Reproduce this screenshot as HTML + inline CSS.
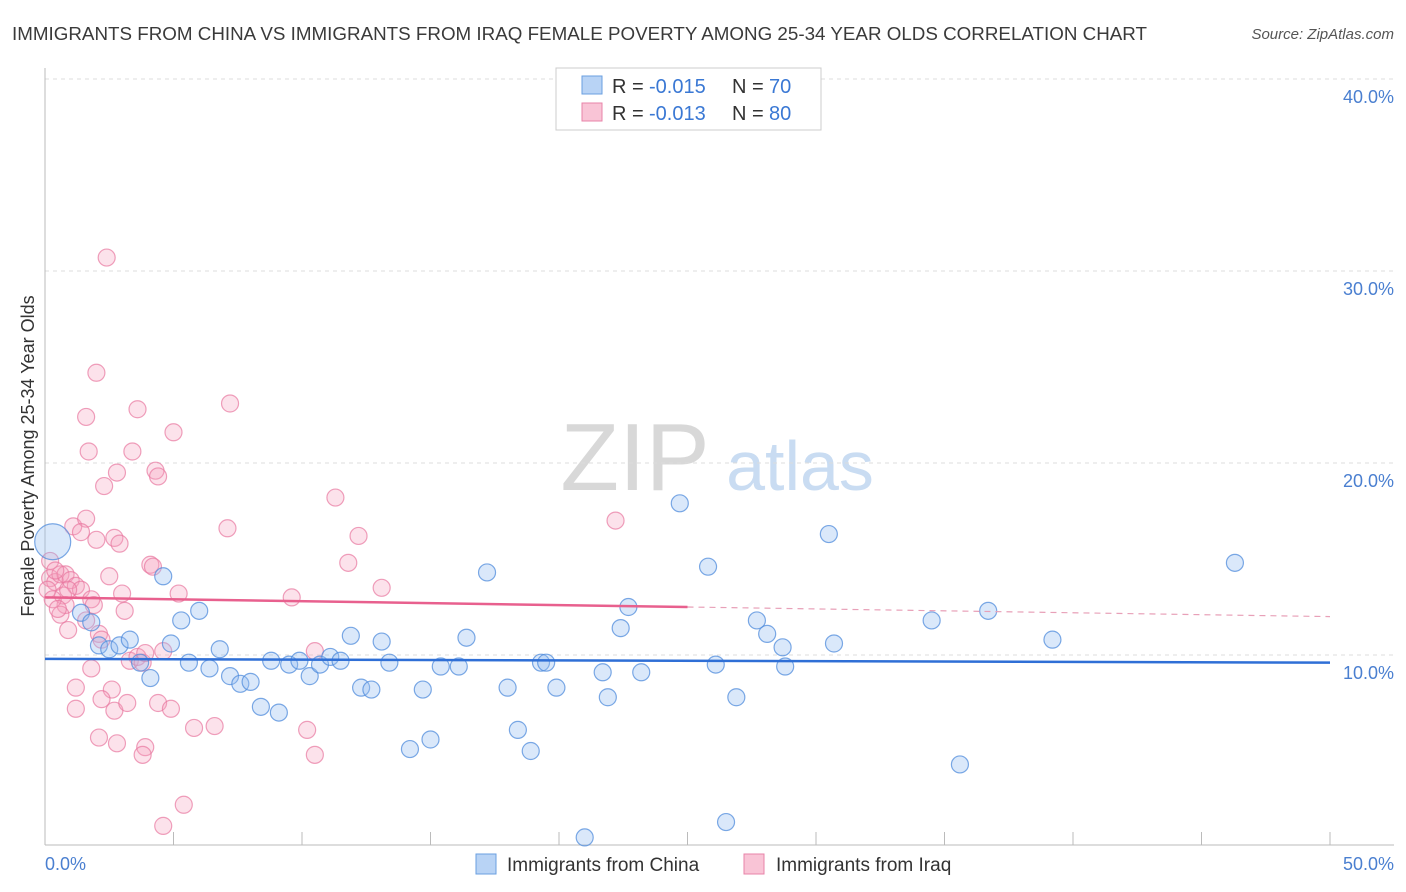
<!DOCTYPE html>
<html><head><meta charset="utf-8">
<style>
body{margin:0;background:#fff;font-family:"Liberation Sans",sans-serif;}
#wrap{position:relative;width:1406px;height:892px;overflow:hidden;}
svg text{font-family:"Liberation Sans",sans-serif;}
</style></head>
<body>
<div id="wrap">
<svg id="chart" width="1406" height="892">
<text x="12" y="40" font-size="18" fill="#3a3a3a" textLength="1135" lengthAdjust="spacingAndGlyphs">IMMIGRANTS FROM CHINA VS IMMIGRANTS FROM IRAQ FEMALE POVERTY AMONG 25-34 YEAR OLDS CORRELATION CHART</text>
<text x="1394" y="39" font-size="15" fill="#555" text-anchor="end" font-style="italic">Source: ZipAtlas.com</text>
<text x="635" y="490" font-size="96" fill="#d8d8d8" text-anchor="middle" font-family="Liberation Serif">ZIP</text>
<text x="800" y="490" font-size="70" fill="#c9dcf2" text-anchor="middle">atlas</text>
<g id="grid"></g>
<g id="marks"></g>
<text transform="translate(34,456) rotate(-90)" font-size="18" fill="#333" text-anchor="middle">Female Poverty Among 25-34 Year Olds</text>
<text x="45" y="870" font-size="18" fill="#4a7fd0">0.0%</text>
<text x="1394" y="870" font-size="18" fill="#4a7fd0" text-anchor="end">50.0%</text>
<g>
<rect x="556" y="68" width="265" height="62" fill="#fff" stroke="#ccc"/>
<rect x="582" y="76" width="20" height="18" fill="#b8d3f5" stroke="#6a9fe0"/>
<rect x="582" y="103" width="20" height="18" fill="#f9c4d6" stroke="#e883a8"/>
<g font-size="20">
<text x="612" y="93" fill="#333">R =</text><text x="649" y="93" fill="#3a78d4">-0.015</text>
<text x="732" y="93" fill="#333">N =</text><text x="769" y="93" fill="#3a78d4">70</text>
</g>
<g font-size="20">
<text x="612" y="120" fill="#333">R =</text><text x="649" y="120" fill="#3a78d4">-0.013</text>
<text x="732" y="120" fill="#333">N =</text><text x="769" y="120" fill="#3a78d4">80</text>
</g>
</g>
<g>
<rect x="476" y="854" width="20" height="20" fill="#b8d3f5" stroke="#6a9fe0"/>
<text x="507" y="871" font-size="19" fill="#333">Immigrants from China</text>
<rect x="744" y="854" width="20" height="20" fill="#f9c4d6" stroke="#e883a8"/>
<text x="776" y="871" font-size="19" fill="#333">Immigrants from Iraq</text>
</g>
</svg>
</div>
<script>
const yTicks=[10,20,30,40];
const yTickLabels=["10.0%","20.0%","30.0%","40.0%"];
const xTicks=[0,5,10,15,20,25,30,35,40,45,50];
const chinaX=[0.3,1.4,1.8,2.1,2.5,2.9,3.3,3.7,4.1,4.6,4.9,5.3,5.6,6.0,6.4,6.8,7.2,7.6,8.0,8.4,8.8,9.1,9.5,9.9,10.3,10.7,11.1,11.5,11.9,12.3,12.7,13.1,13.4,14.2,14.7,15.0,15.4,16.1,16.4,17.2,18.0,18.4,18.9,19.3,19.5,19.9,21.0,21.7,21.9,22.4,22.7,23.2,24.7,25.8,26.1,26.5,26.9,27.7,28.1,28.7,28.8,30.5,30.7,34.5,35.6,36.7,39.2,46.3];
const chinaY=[15.9,12.2,11.7,10.5,10.3,10.5,10.8,9.6,8.8,14.1,10.6,11.8,9.6,12.3,9.3,10.3,8.9,8.5,8.6,7.3,9.7,7.0,9.5,9.7,8.9,9.5,9.9,9.7,11.0,8.3,8.2,10.7,9.6,5.1,8.2,5.6,9.4,9.4,10.9,14.3,8.3,6.1,5.0,9.6,9.6,8.3,0.5,9.1,7.8,11.4,12.5,9.1,17.9,14.6,9.5,1.3,7.8,11.8,11.1,10.4,9.4,16.3,10.6,11.8,4.3,12.3,10.8,14.8];
const iraqX=[2.4,2.0,1.6,1.7,3.6,5.0,7.2,3.4,2.8,4.3,4.4,2.3,7.1,11.3,12.2,11.8,13.1,9.6,10.5,22.2,1.1,1.6,1.4,2.0,2.7,2.9,4.1,4.2,2.5,0.2,0.4,0.6,0.8,1.0,1.2,1.4,1.8,1.9,0.7,0.8,0.6,0.9,2.1,2.2,3.1,3.0,5.2,3.3,3.6,3.8,3.9,4.6,1.2,1.8,2.6,2.2,1.2,2.7,3.2,4.4,4.9,5.8,6.6,2.1,2.8,3.9,3.8,5.4,4.6,10.2,10.5,0.2,0.4,0.1,0.3,0.5,0.9,1.6];
const iraqY=[30.7,24.7,22.4,20.6,22.8,21.6,23.1,20.6,19.5,19.6,19.3,18.8,16.6,18.2,16.2,14.8,13.5,13.0,10.2,17.0,16.7,17.1,16.4,16.0,16.1,15.8,14.7,14.6,14.1,14.0,13.8,14.2,14.2,13.9,13.6,13.4,12.9,12.6,13.1,12.6,12.1,11.3,11.1,10.8,12.3,13.2,13.2,9.7,9.9,9.6,10.1,10.2,8.3,9.3,8.2,7.7,7.2,7.1,7.5,7.5,7.2,6.2,6.3,5.7,5.4,5.2,4.8,2.2,1.1,6.1,4.8,14.9,14.4,13.4,12.9,12.4,13.4,11.8];
const chinaTrend=[9.8,9.6];
const iraqTrend=[13.0,12.0];
const iraqSolidEnd=25;

const X0=45,X1=1330,Y0=847,PXPER=19.2;
function sx(v){return X0+(X1-X0)*v/50;}
function sy(v){return Y0-v*PXPER;}
const NS="http://www.w3.org/2000/svg";
function mk(tag,attrs,parent){const e=document.createElementNS(NS,tag);for(const k in attrs)e.setAttribute(k,attrs[k]);parent.appendChild(e);return e;}
const grid=document.getElementById('grid'),marks=document.getElementById('marks');
yTicks.forEach((t,i)=>{
  const l=mk('line',{x1:X0,x2:1394,y1:sy(t),y2:sy(t),stroke:'#dcdcdc','stroke-dasharray':'4,4'},grid);
  
  
  const tx=mk('text',{x:1394,y:sy(t)+24,'font-size':18,fill:'#4a7fd0','text-anchor':'end'},grid);
  tx.textContent=yTickLabels[i];
  
  
});
const ax=mk('line',{x1:X0,x2:X0,y1:68,y2:845,stroke:'#bbb'},grid);


const bx=mk('line',{x1:X0,x2:1394,y1:845,y2:845,stroke:'#bbb'},grid);


xTicks.forEach(t=>{
  const l=mk('line',{x1:sx(t),x2:sx(t),y1:832,y2:845,stroke:'#bbb'},grid);
  
  
});
iraqX.forEach((x,i)=>{
  const c=mk('circle',{cx:sx(x),cy:sy(iraqY[i]),r:8.5,fill:'rgba(244,160,190,0.3)',stroke:'rgba(232,120,160,0.7)','stroke-width':1.2},marks);
  
  
});
chinaX.forEach((x,i)=>{
  const c=mk('circle',{cx:sx(x),cy:sy(chinaY[i]),r:i===0?18:8.5,fill:'rgba(150,190,240,0.35)',stroke:'rgba(80,140,220,0.75)','stroke-width':1.2},marks);
  
  
});
function lerp(a,b,t){return a+(b-a)*t;}
const ct=mk('line',{x1:sx(0),y1:sy(chinaTrend[0]),x2:sx(50),y2:sy(chinaTrend[1]),stroke:'#2f6fd6','stroke-width':2.5},marks);


const ym=lerp(iraqTrend[0],iraqTrend[1],iraqSolidEnd/50);
const it=mk('line',{x1:sx(0),y1:sy(iraqTrend[0]),x2:sx(iraqSolidEnd),y2:sy(ym),stroke:'#e8608e','stroke-width':2.5},marks);


const id=mk('line',{x1:sx(iraqSolidEnd),y1:sy(ym),x2:sx(50),y2:sy(iraqTrend[1]),stroke:'#e8a0b8','stroke-width':1.2,'stroke-dasharray':'6,5'},marks);


</script>
</body></html>
